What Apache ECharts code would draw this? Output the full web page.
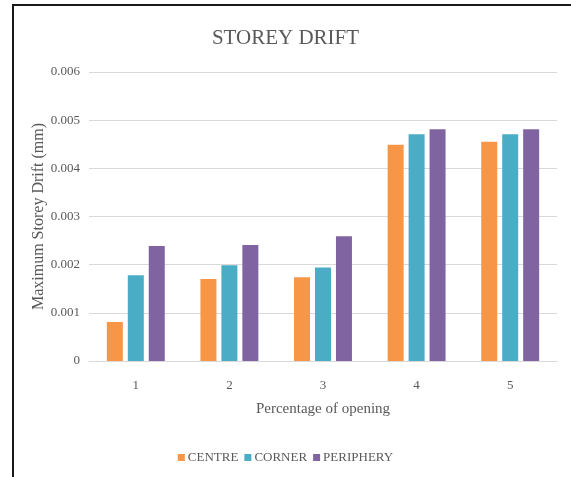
<!DOCTYPE html>
<html>
<head>
<meta charset="utf-8">
<script src="https://cdn.jsdelivr.net/npm/echarts@6/dist/echarts.min.js"></script>
<style>
  html, body { margin: 0; padding: 0; background: #fff; }
  #chart { width: 571px; height: 477px; }
</style>
</head>
<body>
<div id="chart"></div>
<script>
// Storey drift per opening percentage, grouped by opening location
const categories = ['1', '2', '3', '4', '5'];
const centre = [0.00081, 0.00170, 0.00174, 0.00449, 0.00455];
const corner = [0.00178, 0.00199, 0.00194, 0.00471, 0.00471];
const periphery = [0.00239, 0.00241, 0.00259, 0.00481, 0.00481];
const yTicks = { min: 0, max: 0.006, interval: 0.001 };

const serif = '"Liberation Serif", "Times New Roman", serif';
const textGrey = '#595959';

const chart = echarts.init(document.getElementById('chart'), null, { renderer: 'canvas' });

function barSeries(name, data, color) {
  return {
    name: name,
    type: 'bar',
    data: data,
    barWidth: 16,
    barGap: '31%',
    itemStyle: { color: color },
    emphasis: { disabled: true }
  };
}

chart.setOption({
  animation: false,
  backgroundColor: '#fff',
  title: {
    text: 'STOREY DRIFT',
    left: 'center',
    top: 23,
    textStyle: { fontFamily: serif, fontSize: 21, fontWeight: 'normal', color: textGrey }
  },
  grid: { left: 89, right: 14, top: 72, bottom: 116 },
  legend: {
    bottom: 8,
    left: 'center',
    itemWidth: 7,
    itemHeight: 7,
    itemGap: 6,
    icon: 'rect',
    textStyle: { fontFamily: serif, fontSize: 13, color: textGrey, padding: [0, 0, 0, -2] },
    data: ['CENTRE', 'CORNER', 'PERIPHERY']
  },
  xAxis: {
    type: 'category',
    data: categories,
    name: 'Percentage of opening',
    nameLocation: 'middle',
    nameGap: 41,
    nameTextStyle: { fontFamily: serif, fontSize: 15, color: textGrey },
    axisLine: { lineStyle: { color: '#d9d9d9', width: 1 } },
    axisTick: { show: false },
    axisLabel: { fontFamily: serif, fontSize: 13, color: textGrey, margin: 18 }
  },
  yAxis: {
    type: 'value',
    min: yTicks.min,
    max: yTicks.max,
    interval: yTicks.interval,
    name: 'Maximum Storey Drift (mm)',
    nameLocation: 'middle',
    nameGap: 42,
    nameMoveOverlap: false,
    nameTextStyle: { fontFamily: serif, fontSize: 16, color: textGrey },
    axisLine: { show: false },
    axisTick: { show: false },
    axisLabel: {
      fontFamily: serif, fontSize: 13, color: textGrey, margin: 9,
      formatter: v => (v === 0 ? '0' : v.toFixed(3))
    },
    splitLine: { lineStyle: { color: '#d9d9d9', width: 1 } }
  },
  series: [
    barSeries('CENTRE', centre, '#F79646'),
    barSeries('CORNER', corner, '#4BACC6'),
    barSeries('PERIPHERY', periphery, '#8064A2')
  ],
  graphic: [
    {
      type: 'polyline',
      shape: { points: [[13, 477], [13, 5], [571, 5]] },
      style: { stroke: '#1a1a1a', lineWidth: 2, fill: null },
      silent: true
    }
  ]
});
</script>
</body>
</html>
